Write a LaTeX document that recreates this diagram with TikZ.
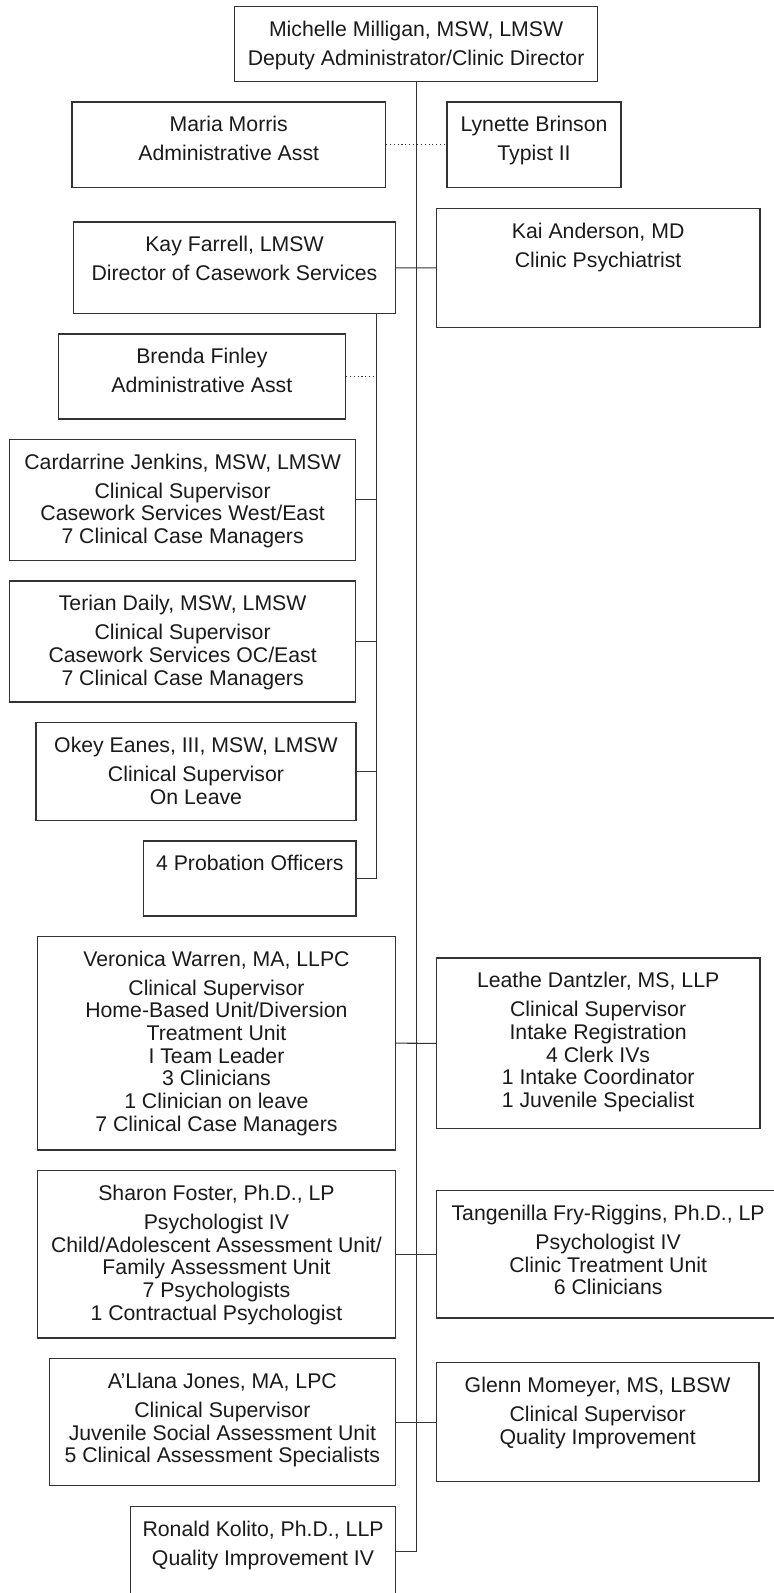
\documentclass[tikz,border=0pt]{standalone}
\usepackage{fontspec}
\setmainfont{Liberation Sans}
\usetikzlibrary{positioning,fit}
\definecolor{boxline}{HTML}{333333}
\definecolor{inkgray}{HTML}{1A1A1A}
\newcommand{\orgfont}{\fontsize{12.1}{12.9}\selectfont}

\begin{document}
\begin{tikzpicture}[x=0.02cm, y=-0.02cm,
  unit/.style={draw=boxline, line width=0.6pt, inner sep=0pt},
  txt/.style={font=\orgfont, text=inkgray, align=center, inner sep=0pt},
  link/.style={draw=boxline, line width=0.6pt},
  aside/.style={draw=boxline, line width=0.6pt, dash pattern=on 0.6pt off 1.6pt}]

\useasboundingbox (0,0) rectangle (774,1593);
\clip (0,0) rectangle (774,1593);

%%% Director and office staff
\node[unit, fit={(234.5,6.7) (597.7,81.3)}] (top) {};
\node[txt, below=0.294cm of top.north] (top-t) {Michelle Milligan, MSW, LMSW\\[3.6pt] Deputy Administrator/Clinic Director};

\node[unit, fit={(72,102) (385.5,187.7)}] (morris) {};
\node[txt, below=0.294cm of morris.north] (morris-t) {Maria Morris\\[3.6pt] Administrative Asst};

\node[unit, fit={(447,102) (621,187.7)}] (brinson) {};
\node[txt, below=0.294cm of brinson.north] (brinson-t) {Lynette Brinson\\[3.6pt] Typist II};

%%% Casework branch
\node[unit, fit={(73.5,222) (395.4,313.7)}] (farrell) {};
\node[txt, below=0.294cm of farrell.north] (farrell-t) {Kay Farrell, LMSW\\[3.6pt] Director of Casework Services};

\node[unit, fit={(436.3,208.3) (760,327.5)}] (anderson) {};
\node[txt, below=0.294cm of anderson.north] (anderson-t) {Kai Anderson, MD\\[3.6pt] Clinic Psychiatrist};

\node[unit, fit={(58.2,334) (345.5,419)}] (finley) {};
\node[txt, below=0.294cm of finley.north] (finley-t) {Brenda Finley\\[3.6pt] Administrative Asst};

\node[unit, fit={(9.4,439.3) (355.9,560.3)}] (jenkins) {};
\node[txt, below=0.294cm of jenkins.north] (jenkins-t) {Cardarrine Jenkins, MSW, LMSW\\[3.6pt] Clinical Supervisor\\ Casework Services West/East\\ 7 Clinical Case Managers};

\node[unit, fit={(9.4,581) (355.9,702)}] (daily) {};
\node[txt, below=0.294cm of daily.north] (daily-t) {Terian Daily, MSW, LMSW\\[3.6pt] Clinical Supervisor\\ Casework Services OC/East\\ 7 Clinical Case Managers};

\node[unit, fit={(36,722.7) (356,820.7)}] (eanes) {};
\node[txt, below=0.294cm of eanes.north] (eanes-t) {Okey Eanes, III, MSW, LMSW\\[3.6pt] Clinical Supervisor\\ On Leave};

\node[unit, fit={(143.6,841) (356,916)}] (probation) {};
\node[txt, below=0.294cm of probation.north] (probation-t) {4 Probation Officers};

%%% Clinical units
\node[unit, fit={(37.5,936.3) (395.4,1150)}] (warren) {};
\node[txt, below=0.294cm of warren.north] (warren-t) {Veronica Warren, MA, LLPC\\[3.6pt] Clinical Supervisor\\ Home-Based Unit/Diversion\\ Treatment Unit\\ I Team Leader\\ 3 Clinicians\\ 1 Clinician on leave\\ 7 Clinical Case Managers};

\node[unit, fit={(436.3,958) (760,1128.7)}] (dantzler) {};
\node[txt, below=0.294cm of dantzler.north] (dantzler-t) {Leathe Dantzler, MS, LLP\\[3.6pt] Clinical Supervisor\\ Intake Registration\\ 4 Clerk IVs\\ 1 Intake Coordinator\\ 1 Juvenile Specialist};

\node[unit, fit={(37.5,1170.7) (395.4,1338)}] (foster) {};
\node[txt, below=0.294cm of foster.north] (foster-t) {Sharon Foster, Ph.D., LP\\[3.6pt] Psychologist IV\\ Child/Adolescent Assessment Unit/\\ Family Assessment Unit\\ 7 Psychologists\\ 1 Contractual Psychologist};

\node[unit, fit={(436.3,1190.7) (780,1318)}] (riggins) {};
\node[txt, below=0.294cm of riggins.north] (riggins-t) {Tangenilla Fry-Riggins, Ph.D., LP\\[3.6pt] Psychologist IV\\ Clinic Treatment Unit\\ 6 Clinicians};

\node[unit, fit={(49.4,1358.7) (395.4,1485.7)}] (jones) {};
\node[txt, below=0.294cm of jones.north] (jones-t) {A'Llana Jones, MA, LPC\\[3.6pt] Clinical Supervisor\\ Juvenile Social Assessment Unit\\ 5 Clinical Assessment Specialists};

\node[unit, fit={(436.3,1362.7) (759,1481.7)}] (momeyer) {};
\node[txt, below=0.294cm of momeyer.north] (momeyer-t) {Glenn Momeyer, MS, LBSW\\[3.6pt] Clinical Supervisor\\ Quality Improvement};

\node[unit, fit={(130.7,1506.3) (395.4,1596)}] (kolito) {};
\node[txt, below=0.294cm of kolito.north] (kolito-t) {Ronald Kolito, Ph.D., LLP\\[3.6pt] Quality Improvement IV};

%%% Connectors
% main trunk
\draw[link] (top.south) |- (kolito.east);
\draw[aside] (morris.east) -- (brinson.west);
\draw[link] (farrell.east) -- (anderson.west);
\draw[link] (warren.east) -- (dantzler.west);
\draw[link] (foster.east) -- (riggins.west);
\draw[link] (jones.east) -- (momeyer.west);

% casework bus
\coordinate (cwbus) at (376.6,313.7);
\draw[link] (cwbus) |- (probation.east);
\draw[aside] (finley.east) -- (finley.east -| cwbus);
\draw[link] (jenkins.east) -- (jenkins.east -| cwbus);
\draw[link] (daily.east) -- (daily.east -| cwbus);
\draw[link] (eanes.east) -- (eanes.east -| cwbus);

\end{tikzpicture}
\end{document}
